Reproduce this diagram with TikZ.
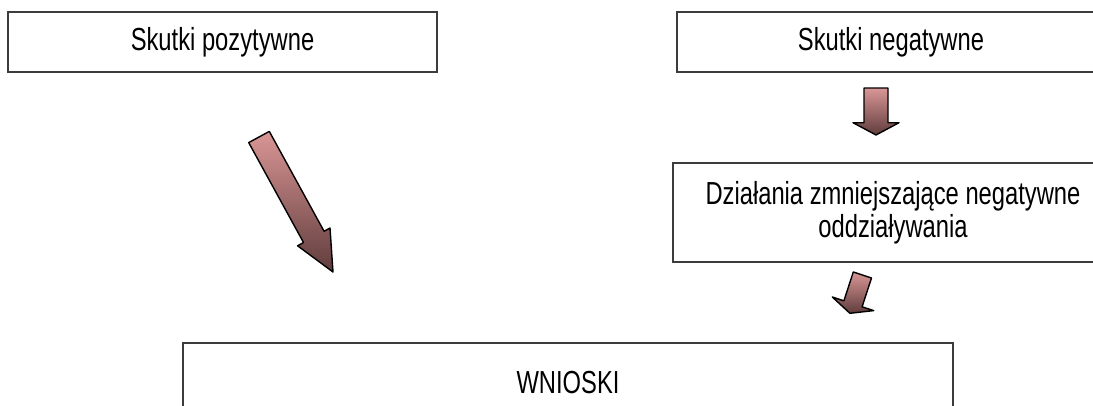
\documentclass[tikz,border=0pt]{standalone}
\usepackage{fontspec}
\setmainfont{Liberation Sans}[FakeStretch=0.745]
\begin{document}
\begin{tikzpicture}[x=1bp,y=1bp,
  box/.style={draw=boxline, line width=1.5bp, fill=white, inner sep=0pt,
    font=\fontsize{32}{33.5}\selectfont, align=center, anchor=center},
  blockarrow/.style={draw=black, line width=1.4bp, line join=round,
    top color=arrowtop, bottom color=arrowbot}]
\definecolor{boxline}{RGB}{60,60,60}
\definecolor{arrowtop}{RGB}{218,150,150}
\definecolor{arrowbot}{RGB}{96,60,60}
\useasboundingbox (0,0) rectangle (1093,405);
\clip (0,0) rectangle (1093,405);
% boxes
\node[box, minimum width=429bp, minimum height=60bp] (pos) at (222.5,363) {Skutki pozytywne};
\node[box, minimum width=428bp, minimum height=60bp] (neg) at (891,363) {Skutki negatywne};
\node[box, minimum width=440bp, minimum height=99bp] (dzi) at (893,192.5) {Działania zmniejszające negatywne\\oddziaływania};
\node[box, minimum width=770bp, minimum height=80bp] (wn) at (568,22) {WNIOSKI};
% big diagonal arrow (pos -> wn)
\draw[blockarrow] (248.7,262.4) -- (303.5,162.5) -- (297.6,159.2) -- (333,133) -- (330,177) -- (324.1,173.7) -- (269.3,273.6) -- cycle;
% down arrow (neg -> dzi)
\draw[blockarrow] (864,317) -- (864,282.3) -- (853,282.3) -- (876,270) -- (899,282.3) -- (888,282.3) -- (888,317) -- cycle;
% small diagonal arrow (dzi -> wn)
\draw[blockarrow] (853.3,133.0) -- (843.9,104.2) -- (832.3,108.0) -- (849.9,91.7) -- (873.7,94.4) -- (862.1,98.2) -- (871.5,127.0) -- cycle;
\end{tikzpicture}
\end{document}
